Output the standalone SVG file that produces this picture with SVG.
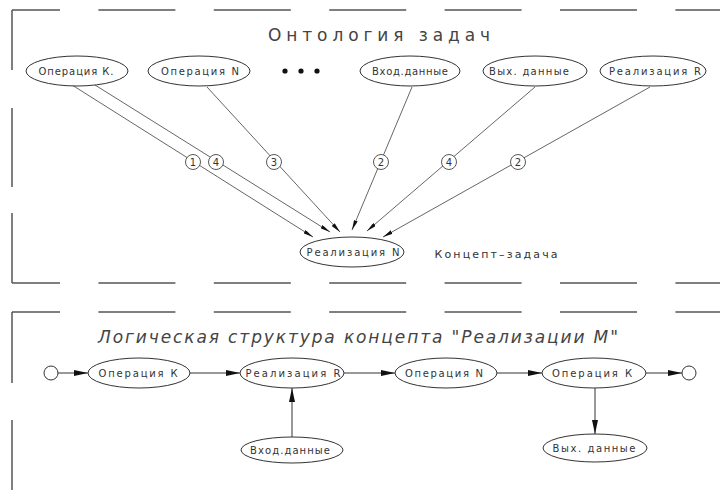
<svg xmlns="http://www.w3.org/2000/svg" width="720" height="498" viewBox="0 0 720 498">
<defs>
<style>
.frame{fill:none;stroke:#555;stroke-width:1.5}
.dash{fill:none;stroke:#555;stroke-width:1.5;stroke-dasharray:77 38.4;stroke-dashoffset:29}
.node{fill:#fff;stroke:#333;stroke-width:1}
.lbl{font-family:"DejaVu Sans","Liberation Sans",sans-serif;font-size:10px;fill:#333;text-anchor:middle}
.ttl{font-family:"DejaVu Sans","Liberation Sans",sans-serif;font-size:17px;fill:#444}
.edge{fill:none;stroke:#555;stroke-width:0.9}
.edge2{fill:none;stroke:#333;stroke-width:1}
.num{fill:#fff;stroke:#444;stroke-width:0.9}
.numt{font-family:"DejaVu Sans","Liberation Sans",sans-serif;font-size:10px;fill:#333;text-anchor:middle}
</style>
<marker id="ah" viewBox="0 0 10 4" refX="10" refY="2" markerWidth="10" markerHeight="4" markerUnits="userSpaceOnUse" orient="auto">
<path d="M0,0 L10,2 L0,4 z" fill="#111"/>
</marker>
<marker id="ah2" viewBox="0 0 14 6" refX="14" refY="3" markerWidth="14" markerHeight="6" markerUnits="userSpaceOnUse" orient="auto">
<path d="M0,0 L14,3 L0,6 z" fill="#111"/>
</marker>
</defs>

<g id="frames">
<path class="dash" d="M12,10 H720"/>
<path class="dash" d="M12,283 H720"/>
<path class="dash" d="M12,312 H720"/>
<path class="frame" d="M12,10 V70 M12,108 V187 M12,213 V283"/>
<path class="frame" d="M12,312 V383 M12,420 V490"/>
</g>

<g id="titles">
<text class="ttl" x="268" y="41" textLength="222" lengthAdjust="spacing">Онтология задач</text>
<text class="ttl" x="98" y="343" textLength="520" lengthAdjust="spacing" font-style="italic">Логическая структура концепта "Реализации М"</text>
<text class="lbl" x="496" y="258" style="font-size:11px" textLength="123" lengthAdjust="spacing">Концепт–задача</text>
</g>

<g id="connectors">
<line class="edge" x1="72" y1="85" x2="313" y2="237" marker-end="url(#ah)"/>
<line class="edge" x1="95" y1="85" x2="330" y2="232" marker-end="url(#ah)"/>
<line class="edge" x1="207" y1="87" x2="340" y2="232" marker-end="url(#ah)"/>
<line class="edge" x1="412" y1="87" x2="352" y2="230" marker-end="url(#ah)"/>
<line class="edge" x1="535" y1="87" x2="367" y2="231" marker-end="url(#ah)"/>
<line class="edge" x1="650" y1="87" x2="383" y2="237" marker-end="url(#ah)"/>

<line class="edge2" x1="57" y1="373" x2="88" y2="373" marker-end="url(#ah2)"/>
<line class="edge2" x1="190" y1="373" x2="240" y2="373" marker-end="url(#ah2)"/>
<line class="edge2" x1="344" y1="373" x2="395" y2="373" marker-end="url(#ah2)"/>
<line class="edge2" x1="497" y1="373" x2="542" y2="373" marker-end="url(#ah2)"/>
<line class="edge2" x1="646" y1="373" x2="682" y2="373" marker-end="url(#ah2)"/>
<line class="edge2" x1="292" y1="437" x2="292" y2="388" marker-end="url(#ah2)"/>
<line class="edge2" x1="595" y1="388" x2="595" y2="434" marker-end="url(#ah2)"/>
</g>

<g id="edge-numbers">
<circle class="num" cx="193" cy="162" r="7.5"/><text class="numt" x="193" y="165.5">1</text>
<circle class="num" cx="216" cy="162" r="7.5"/><text class="numt" x="216" y="165.5">4</text>
<circle class="num" cx="274" cy="162" r="7.5"/><text class="numt" x="274" y="165.5">3</text>
<circle class="num" cx="381" cy="162" r="7.5"/><text class="numt" x="381" y="165.5">2</text>
<circle class="num" cx="449" cy="162" r="7.5"/><text class="numt" x="449" y="165.5">4</text>
<circle class="num" cx="518" cy="162" r="7.5"/><text class="numt" x="518" y="165.5">2</text>
</g>

<g id="n-opK-top"><ellipse class="node" cx="77" cy="71" rx="51" ry="15"/><text class="lbl" x="76" y="74.5" textLength="75" lengthAdjust="spacing">Операция К.</text></g>
<g id="n-opN-top"><ellipse class="node" cx="199" cy="71" rx="51" ry="15"/><text class="lbl" x="200" y="74.5" textLength="78" lengthAdjust="spacing">Операция N</text></g>
<g id="dots">
<circle cx="285" cy="71" r="2.6" fill="#111"/>
<circle cx="301" cy="71" r="2.6" fill="#111"/>
<circle cx="317" cy="71" r="2.6" fill="#111"/>
</g>
<g id="n-in-top"><ellipse class="node" cx="410" cy="71" rx="50" ry="15"/><text class="lbl" x="410" y="74.5" textLength="76" lengthAdjust="spacing">Вход.данные</text></g>
<g id="n-out-top"><ellipse class="node" cx="535" cy="71" rx="52" ry="15"/><text class="lbl" x="529" y="74.5" textLength="80" lengthAdjust="spacing">Вых. данные</text></g>
<g id="n-realR-top"><ellipse class="node" cx="653" cy="71" rx="53" ry="15"/><text class="lbl" x="655" y="74.5" textLength="92" lengthAdjust="spacing">Реализация R</text></g>
<g id="n-realN"><ellipse class="node" cx="352" cy="252" rx="52" ry="15"/><text class="lbl" x="353" y="255.5" textLength="93" lengthAdjust="spacing">Реализация N</text></g>

<g id="n-start"><circle class="node" cx="51" cy="373" r="7"/></g>
<g id="n-opK1"><ellipse class="node" cx="139" cy="373" rx="51" ry="15"/><text class="lbl" x="138" y="376.5" textLength="79" lengthAdjust="spacing">Операция К</text></g>
<g id="n-realR"><ellipse class="node" cx="292" cy="373" rx="52" ry="15"/><text class="lbl" x="293" y="376.5" textLength="95" lengthAdjust="spacing">Реализация R</text></g>
<g id="n-opN"><ellipse class="node" cx="446" cy="373" rx="51" ry="15"/><text class="lbl" x="444" y="376.5" textLength="78" lengthAdjust="spacing">Операция N</text></g>
<g id="n-opK2"><ellipse class="node" cx="594" cy="373" rx="52" ry="15"/><text class="lbl" x="592" y="376.5" textLength="80" lengthAdjust="spacing">Операция К</text></g>
<g id="n-end"><circle class="node" cx="689" cy="373" r="7"/></g>
<g id="n-in"><ellipse class="node" cx="292" cy="450" rx="51" ry="13"/><text class="lbl" x="290" y="453.5" textLength="80" lengthAdjust="spacing">Вход.данные</text></g>
<g id="n-out"><ellipse class="node" cx="595" cy="448" rx="52" ry="14"/><text class="lbl" x="594" y="451.5" textLength="83" lengthAdjust="spacing">Вых. данные</text></g>
</svg>
